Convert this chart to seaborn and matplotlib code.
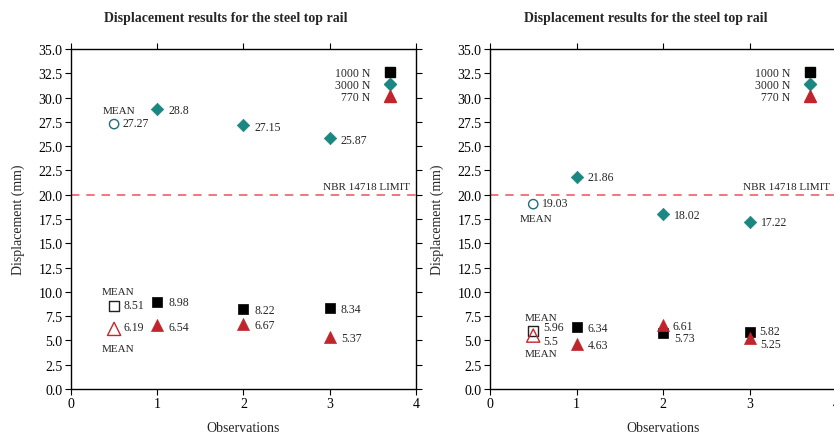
import matplotlib
matplotlib.use("Agg")
import matplotlib.pyplot as plt
from matplotlib.lines import Line2D
import seaborn as sns
import pandas as pd

# --- data ---
obs = [1, 2, 3]
mean_x = 0.5
loads = ["1000 N", "3000 N", "770 N"]

left_1000 = [8.98, 8.22, 8.34]
left_3000 = [28.8, 27.15, 25.87]
left_770 = [6.54, 6.67, 5.37]
left_means = [8.51, 27.27, 6.19]

right_1000 = [6.34, 5.73, 5.82]
right_3000 = [21.86, 18.02, 17.22]
right_770 = [4.63, 6.61, 5.25]
right_means = [5.96, 19.03, 5.5]

limit = 20.0

sns.set_theme(style="white")
plt.rcParams["font.family"] = ["Liberation Serif", "DejaVu Serif"]

colors = {"1000 N": "#000000", "3000 N": "#1a8782", "770 N": "#c1252b"}
mean_colors = {"1000 N": "#222222", "3000 N": "#1f6e78", "770 N": "#c8252b"}
markers = {"1000 N": "s", "3000 N": "D", "770 N": "^"}
mean_markers = {"1000 N": "s", "3000 N": "o", "770 N": "^"}
sizes = {"1000 N": 60, "3000 N": 40, "770 N": 75}
mean_sizes = {"1000 N": 55, "3000 N": 45, "770 N": 90}

# text offsets (points) for each value label, per panel
left_offsets = {
    "1000 N": [(8, 0), (8, -0.7), (8, -0.7)],
    "3000 N": [(8, -0.5), (8, -1.2), (8, -1.6)],
    "770 N": [(8, -1), (8, -0.6), (8, -0.9)],
}
left_mean_offsets = {"1000 N": (7, 1), "3000 N": (6, 0.7), "770 N": (7, 1.4)}
left_mean_words = {"1000 N": (-9, 11), "3000 N": (-8, 10), "770 N": (-9, -14)}

right_offsets = {
    "1000 N": [(8, -0.4), (8, -3.4), (7, 1)],
    "3000 N": [(8, 0), (8, -0.7), (8, 0)],
    "770 N": [(8, -0.7), (7, -0.9), (8, -4.3)],
}
right_mean_offsets = {"1000 N": (7, 3), "3000 N": (6, 0.7), "770 N": (7, -3.9)}
right_mean_words = {"1000 N": (-6, 9.5), "3000 N": (-10, -10), "770 N": (-6, -13)}


def draw_panel(ax, vals, means, offs, mean_offs, mean_words):
    df = pd.DataFrame({
        "obs": obs * 3,
        "disp": vals[0] + vals[1] + vals[2],
        "load": [loads[0]] * 3 + [loads[1]] * 3 + [loads[2]] * 3,
    })
    for ld in loads:
        sub = df[df["load"] == ld]
        sns.scatterplot(data=sub, x="obs", y="disp", ax=ax, marker=markers[ld],
                        color=colors[ld], s=sizes[ld], edgecolor=colors[ld],
                        linewidth=0.5, legend=False, zorder=3)
        for (x, y), off in zip(zip(sub["obs"], sub["disp"]), offs[ld]):
            ax.annotate(f"{y:g}", (x, y), xytext=off, textcoords="offset points",
                        ha="left", va="center", fontsize=8.5)
    for ld, m in zip(loads, means):
        ax.scatter([mean_x], [m], marker=mean_markers[ld], s=mean_sizes[ld],
                   facecolors="none", edgecolors=mean_colors[ld], linewidths=1.0,
                   zorder=3)
        ax.annotate(f"{m:g}", (mean_x, m), xytext=mean_offs[ld],
                    textcoords="offset points", ha="left", va="center",
                    fontsize=8.5)
        ax.annotate("MEAN", (mean_x, m), xytext=mean_words[ld],
                    textcoords="offset points", ha="left", va="center",
                    fontsize=8)

    ax.axhline(limit, color="#f0505c", lw=1.1, ls=(0, (5.5, 4.5)), zorder=1)
    ax.text(3.93, limit + 0.4, "NBR 14718 LIMIT", ha="right", va="bottom",
            fontsize=8)

    ax.set_xlim(0, 4)
    ax.set_ylim(0, 35)
    ax.set_xticks([0, 1, 2, 3, 4])
    ax.set_xticklabels(["0", "1", "2", "3", "4"])
    ax.set_yticks([i * 2.5 for i in range(15)])
    ax.set_yticklabels([f"{i * 2.5:.1f}" for i in range(15)])
    ax.tick_params(direction="out", length=4, width=0.8, colors="black",
                   top=True, right=True, bottom=True, left=True,
                   labelsize=10, pad=2)
    for sp in ax.spines.values():
        sp.set_color("black")
        sp.set_linewidth(1.0)
    ax.set_xlabel("Observations", fontsize=10, labelpad=8)
    ax.set_ylabel("Displacement (mm)", fontsize=10, labelpad=10)
    ax.set_title("Displacement results for the steel top rail", x=0.45,
                 fontsize=10, fontweight="bold", pad=20)

    handles = [Line2D([], [], ls="none", marker=markers[ld], color=colors[ld],
                      markersize={"1000 N": 7, "3000 N": 6, "770 N": 8}[ld])
               for ld in loads]
    ax.legend(handles, loads, loc="upper right", bbox_to_anchor=(0.96, 0.965),
              frameon=False, markerfirst=False, fontsize=8.5, labelspacing=0.0,
              handlelength=1.0, handletextpad=1.2, borderpad=0)


fig = plt.figure(figsize=(8.34, 4.39), dpi=100)
ax1 = fig.add_axes([0.0851, 0.1116, 0.4137, 0.7745])
ax2 = fig.add_axes([0.5875, 0.1116, 0.415, 0.7745])

draw_panel(ax1, [left_1000, left_3000, left_770], left_means,
           left_offsets, left_mean_offsets, left_mean_words)
draw_panel(ax2, [right_1000, right_3000, right_770], right_means,
           right_offsets, right_mean_offsets, right_mean_words)

fig.savefig("out.png", dpi=100)
